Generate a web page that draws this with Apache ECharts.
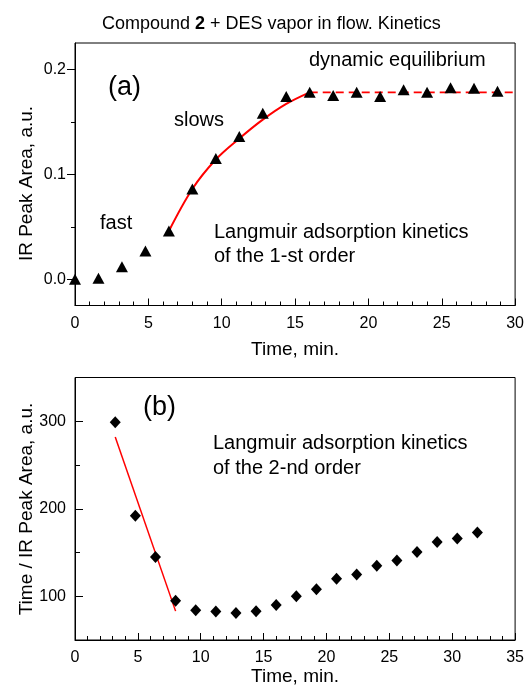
<!DOCTYPE html>
<html>
<head>
<meta charset="utf-8">
<script src="https://cdn.jsdelivr.net/npm/echarts@6/dist/echarts.min.js"></script>
<style>
  html, body { margin: 0; padding: 0; background: #fff; }
  #chart { width: 527px; height: 698px; }
</style>
</head>
<body>
<div id="chart"></div>
<script>
// panel (a): IR peak area vs time
var timeA = [0, 1.6, 3.2, 4.8, 6.4, 8.0, 9.6, 11.2, 12.8, 14.4, 16.0, 17.6, 19.2, 20.8, 22.4, 24.0, 25.6, 27.2, 28.8];
var areaA = [0.000, 0.001, 0.012, 0.027, 0.046, 0.086, 0.115, 0.136, 0.158, 0.174, 0.178, 0.175, 0.178, 0.174, 0.1805, 0.178, 0.1825, 0.182, 0.179];
// 1-st order fit and the plateau
var fitTimeA = [6.4, 8.0, 9.6, 11.2, 12.8, 14.4, 16.0];
var fitAreaA = [0.046, 0.086, 0.114, 0.134, 0.152, 0.167, 0.178];
var plateauTime = [16.0, 30];
var plateauArea = [0.178, 0.178];

// panel (b): time / IR peak area vs time
var timeB = [3.2, 4.8, 6.4, 8.0, 9.6, 11.2, 12.8, 14.4, 16.0, 17.6, 19.2, 20.8, 22.4, 24.0, 25.6, 27.2, 28.8, 30.4, 32.0];
var ratioB = [299, 192, 145, 95, 84, 82.5, 81, 83, 90, 100, 108, 120, 125, 135, 141, 150.5, 162, 166, 173];
var fitTimeB = [3.2, 8.0];
var fitRatioB = [282, 83];

// ticks
var yTicksA = [0, 0.1, 0.2];
var yMinorA = [0.05, 0.15];
var yTicksB = [100, 200, 300];
var yMinorB = [150, 250];

var FONT = '"Liberation Sans", Arial, sans-serif';

function pairs(xs, ys) {
    return xs.map(function (x, i) { return [x, ys[i]]; });
}

var chart = echarts.init(document.getElementById('chart'));

function xAxis(gridIndex, max, nameGap) {
    return {
        type: 'value', gridIndex: gridIndex, min: 0, max: max, interval: 5,
        name: 'Time, min.', nameLocation: 'middle', nameGap: nameGap,
        nameTextStyle: { fontFamily: FONT, fontSize: 19, color: '#000' },
        axisLine: { show: true, onZero: false, lineStyle: { color: '#000', width: 1 } },
        axisTick: { show: true, inside: true, length: 7, lineStyle: { color: '#000' } },
        minorTick: { show: true, splitNumber: 5, length: 4, lineStyle: { color: '#000' } },
        axisLabel: { fontFamily: FONT, fontSize: 16, color: '#000', margin: 10 },
        splitLine: { show: false }
    };
}

function yAxis(gridIndex, min, max, labels, inside, fmt) {
    return {
        type: 'value', gridIndex: gridIndex, position: 'left', min: min, max: max,
        axisLine: { show: true, onZero: false, lineStyle: { color: '#000', width: 1 } },
        axisTick: { show: true, inside: inside, length: 8, customValues: labels, lineStyle: { color: '#000' } },
        axisLabel: { fontFamily: FONT, fontSize: 16, color: '#000', margin: 9, customValues: labels, formatter: fmt },
        splitLine: { show: false }
    };
}

function yMinor(gridIndex, min, max, values, inside, len) {
    return {
        type: 'value', gridIndex: gridIndex, position: 'left', min: min, max: max,
        axisLine: { show: false, onZero: false },
        axisTick: { show: true, inside: inside, length: len, customValues: values, lineStyle: { color: '#000' } },
        axisLabel: { show: false },
        splitLine: { show: false }
    };
}

function label(text, x, y, size) {
    return {
        type: 'text', x: x, y: y,
        style: { text: text, fontFamily: FONT, fontSize: size || 20, fill: '#000', verticalAlign: 'middle' }
    };
}

chart.setOption({
    animation: false,
    backgroundColor: '#fff',
    title: {
        text: '{n|Compound }{b|2}{n| + DES vapor in flow. Kinetics}',
        left: 97, top: 10,
        textStyle: {
            fontWeight: 'normal',
            rich: {
                n: { fontFamily: FONT, fontSize: 18, color: '#000', fontWeight: 'normal' },
                b: { fontFamily: FONT, fontSize: 18, color: '#000', fontWeight: 'bold' }
            }
        }
    },
    grid: [
        { left: 75, top: 43, width: 441, height: 262.5, show: true, borderColor: '#000', borderWidth: 1 },
        { left: 75, top: 377.5, width: 441, height: 262.5, show: true, borderColor: '#000', borderWidth: 1 }
    ],
    xAxis: [xAxis(0, 30, 35), xAxis(1, 35, 18)],
    yAxis: [
        yAxis(0, -0.025, 0.225, yTicksA, false, function (v) { return v.toFixed(1); }),
        yMinor(0, -0.025, 0.225, yMinorA, false, 4),
        yAxis(1, 50, 350, yTicksB, true, function (v) { return String(v); }),
        yMinor(1, 50, 350, yMinorB, true, 5)
    ],
    graphic: [
        { type: 'text', x: 27, y: 183.5, rotation: Math.PI / 2,
          style: { text: 'IR Peak Area, a.u.', fontFamily: FONT, fontSize: 19, fill: '#000', align: 'center', verticalAlign: 'middle' } },
        { type: 'text', x: 27, y: 509, rotation: Math.PI / 2,
          style: { text: 'Time / IR Peak Area, a.u.', fontFamily: FONT, fontSize: 19, fill: '#000', align: 'center', verticalAlign: 'middle' } },
        label('(a)', 108, 88, 27),
        label('slows', 174, 120),
        label('fast', 100, 223),
        label('dynamic equilibrium', 309, 60),
        label('Langmuir adsorption kinetics', 214, 232),
        label('of the 1-st order', 214, 256),
        label('(b)', 143, 408, 27),
        label('Langmuir adsorption kinetics', 213, 443),
        label('of the 2-nd order', 213, 468)
    ],
    series: [
        {
            type: 'line', xAxisIndex: 0, yAxisIndex: 0, smooth: 0.35, symbol: 'none',
            lineStyle: { color: '#ff0000', width: 2 },
            data: pairs(fitTimeA, fitAreaA), z: 2
        },
        {
            type: 'line', xAxisIndex: 0, yAxisIndex: 0, symbol: 'none',
            lineStyle: { color: '#ff0000', width: 1.8, type: [8, 5] },
            data: pairs(plateauTime, plateauArea), z: 2
        },
        {
            type: 'scatter', xAxisIndex: 0, yAxisIndex: 0, symbol: 'triangle', symbolSize: [12, 11],
            itemStyle: { color: '#000', opacity: 1 }, data: pairs(timeA, areaA), z: 3
        },
        {
            type: 'line', xAxisIndex: 1, yAxisIndex: 2, symbol: 'none',
            lineStyle: { color: '#ff0000', width: 1.5 },
            data: pairs(fitTimeB, fitRatioB), z: 2
        },
        {
            type: 'scatter', xAxisIndex: 1, yAxisIndex: 2, symbol: 'diamond', symbolSize: [11, 12],
            itemStyle: { color: '#000', opacity: 1 }, data: pairs(timeB, ratioB), z: 3
        }
    ]
});
</script>
</body>
</html>
